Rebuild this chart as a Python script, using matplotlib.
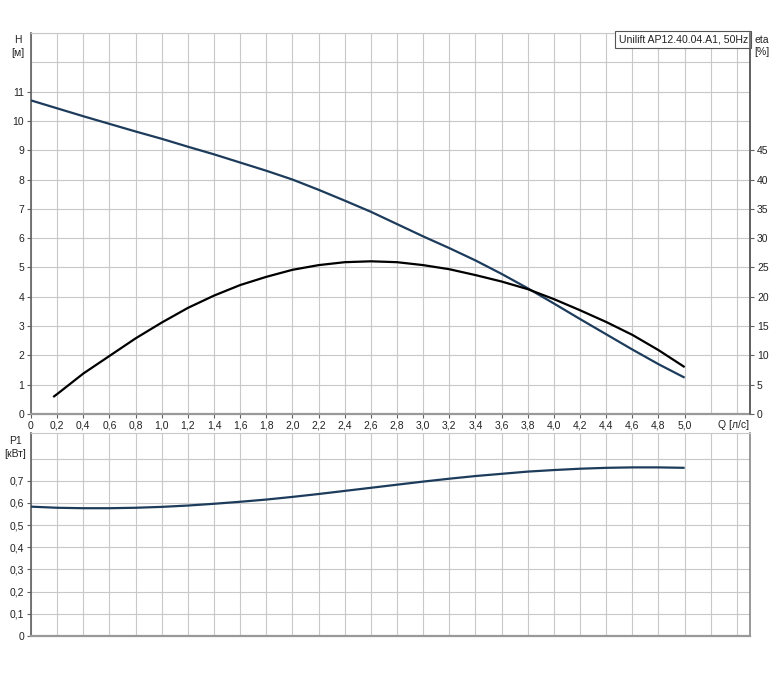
import matplotlib
matplotlib.use("Agg")
import matplotlib.pyplot as plt

plt.rcParams['font.family'] = ['Liberation Sans', 'DejaVu Sans']

# ---- data ----
q_h = [0.0, 0.2, 0.4, 0.6, 0.8, 1.0, 1.2, 1.4, 1.6, 1.8, 2.0, 2.2, 2.4, 2.6,
       2.8, 3.0, 3.2, 3.4, 3.6, 3.8, 4.0, 4.2, 4.4, 4.6, 4.8, 5.0]
h_vals = [10.70, 10.43, 10.16, 9.90, 9.64, 9.39, 9.12, 8.86, 8.58, 8.30, 8.00,
          7.65, 7.28, 6.90, 6.48, 6.06, 5.66, 5.24, 4.78, 4.29, 3.77, 3.24,
          2.72, 2.20, 1.70, 1.24]

q_eta = [0.17, 0.2, 0.4, 0.6, 0.8, 1.0, 1.2, 1.4, 1.6, 1.8, 2.0, 2.2, 2.4, 2.6,
         2.8, 3.0, 3.2, 3.4, 3.6, 3.8, 4.0, 4.2, 4.4, 4.6, 4.8, 5.0]
eta_vals = [2.9, 3.4, 6.9, 9.9, 12.9, 15.6, 18.1, 20.2, 22.0, 23.4, 24.6, 25.4,
            25.9, 26.05, 25.9, 25.4, 24.7, 23.7, 22.6, 21.3, 19.6, 17.7, 15.7,
            13.5, 10.9, 8.0]

q_p = [0.0, 0.2, 0.4, 0.6, 0.8, 1.0, 1.2, 1.4, 1.6, 1.8, 2.0, 2.2, 2.4, 2.6,
       2.8, 3.0, 3.2, 3.4, 3.6, 3.8, 4.0, 4.2, 4.4, 4.6, 4.8, 5.0]
p1_vals = [0.583, 0.578, 0.576, 0.576, 0.578, 0.582, 0.588, 0.596, 0.605, 0.615,
           0.627, 0.640, 0.654, 0.668, 0.682, 0.696, 0.709, 0.721, 0.731, 0.741,
           0.748, 0.754, 0.758, 0.760, 0.760, 0.758]

x_ticks = [0.0, 0.2, 0.4, 0.6, 0.8, 1.0, 1.2, 1.4, 1.6, 1.8, 2.0, 2.2, 2.4, 2.6,
           2.8, 3.0, 3.2, 3.4, 3.6, 3.8, 4.0, 4.2, 4.4, 4.6, 4.8, 5.0]
x_grid = x_ticks + [5.2, 5.4]
h_ticks = list(range(0, 12))
h_grid = list(range(0, 14))
eta_ticks = list(range(0, 50, 5))
p_ticks = [0.0, 0.1, 0.2, 0.3, 0.4, 0.5, 0.6, 0.7]
p_grid = p_ticks + [0.8]

title_text = "Unilift AP12.40.04.A1, 50Hz"


def fmt_dec(v):
    if abs(v) < 1e-9:
        return "0"
    return ("%.1f" % v).replace(".", ",")


W, H = 774, 678
fig = plt.figure(figsize=(W / 100, H / 100), dpi=100)

L, R = 31 / W, 750 / W
top1, bot1 = 1 - 33 / H, 1 - 414 / H
top2, bot2 = 1 - 433 / H, 1 - 636 / H

grid_c = '#c8c8c8'
dark = '#606060'
blue = '#1d3c5c'
txt = '#222222'
fs = 7.5

ax = fig.add_axes([L, bot1, R - L, top1 - bot1])
ax.set_xlim(0, 5.5)
ax.set_ylim(0, 13)
for xv in x_grid:
    ax.axvline(xv, color=grid_c, lw=0.8, zorder=0)
for yv in h_grid:
    ax.axhline(yv, color=grid_c, lw=0.8, zorder=0)
ax.plot(q_h, h_vals, color=blue, lw=1.6, zorder=3, solid_capstyle='butt')

ax.set_xticks(x_ticks)
ax.set_xticklabels([fmt_dec(v) for v in x_ticks], fontsize=fs, color=txt)
ax.set_yticks(h_ticks)
ax.set_yticklabels([str(v) for v in h_ticks], fontsize=fs, color=txt)
ax.tick_params(axis='both', length=3, width=0.8, color=dark, pad=2)
ax.spines['left'].set_color(dark)
ax.spines['left'].set_linewidth(1.2)
ax.spines['bottom'].set_color('#999999')
ax.spines['bottom'].set_linewidth(1.6)
ax.spines['top'].set_color(grid_c)
ax.spines['top'].set_linewidth(0.8)
ax.spines['right'].set_color(dark)
ax.spines['right'].set_linewidth(1.2)

ax2 = ax.twinx()
ax2.set_ylim(0, 65)
ax2.plot(q_eta, eta_vals, color='black', lw=1.6, zorder=4, solid_capstyle='butt')
ax2.set_yticks(eta_ticks)
ax2.set_yticklabels([str(v) for v in eta_ticks], fontsize=fs, color=txt)
ax2.tick_params(axis='y', length=3, width=0.8, color=dark, pad=2)
for s in ['left', 'top', 'bottom']:
    ax2.spines[s].set_visible(False)
ax2.spines['right'].set_color(dark)
ax2.spines['right'].set_linewidth(1.2)

ax.text(0.997, 0.996, title_text, transform=ax.transAxes, ha='right', va='top',
        fontsize=7.6, color=txt, zorder=6,
        bbox=dict(boxstyle='square,pad=0.3', fc='white', ec='#555555', lw=0.8))

fig.text(18 / W, 1 - 40 / H, "H", ha='center', va='center', fontsize=fs, color=txt)
fig.text(18 / W, 1 - 53 / H, "[м]", ha='center', va='center', fontsize=fs, color=txt)
fig.text(762 / W, 1 - 40 / H, "eta", ha='center', va='center', fontsize=fs, color=txt)
fig.text(762 / W, 1 - 52 / H, "[%]", ha='center', va='center', fontsize=fs, color=txt)
fig.text(734 / W, 1 - 425 / H, "Q [л/с]", ha='center', va='center', fontsize=fs, color=txt)

axp = fig.add_axes([L, bot2, R - L, top2 - bot2])
axp.set_xlim(0, 5.5)
axp.set_ylim(0, 0.915)
for xv in x_grid:
    axp.axvline(xv, color=grid_c, lw=0.8, zorder=0)
for yv in p_grid:
    axp.axhline(yv, color=grid_c, lw=0.8, zorder=0)
axp.plot(q_p, p1_vals, color=blue, lw=1.6, zorder=3, solid_capstyle='butt')
axp.set_xticks([])
axp.set_yticks(p_ticks)
axp.set_yticklabels([fmt_dec(v) for v in p_ticks], fontsize=fs, color=txt)
axp.tick_params(axis='y', length=3, width=0.8, color=dark, pad=2)
axp.spines['left'].set_color(dark)
axp.spines['left'].set_linewidth(1.2)
axp.spines['bottom'].set_color('#999999')
axp.spines['bottom'].set_linewidth(1.6)
axp.spines['top'].set_color(grid_c)
axp.spines['top'].set_linewidth(0.8)
axp.spines['right'].set_color('#888888')
axp.spines['right'].set_linewidth(1.2)

fig.text(15 / W, 1 - 441 / H, "P1", ha='center', va='center', fontsize=fs, color=txt)
fig.text(15 / W, 1 - 454 / H, "[кВт]", ha='center', va='center', fontsize=fs, color=txt)

fig.savefig("out.png", dpi=100, facecolor='white')
